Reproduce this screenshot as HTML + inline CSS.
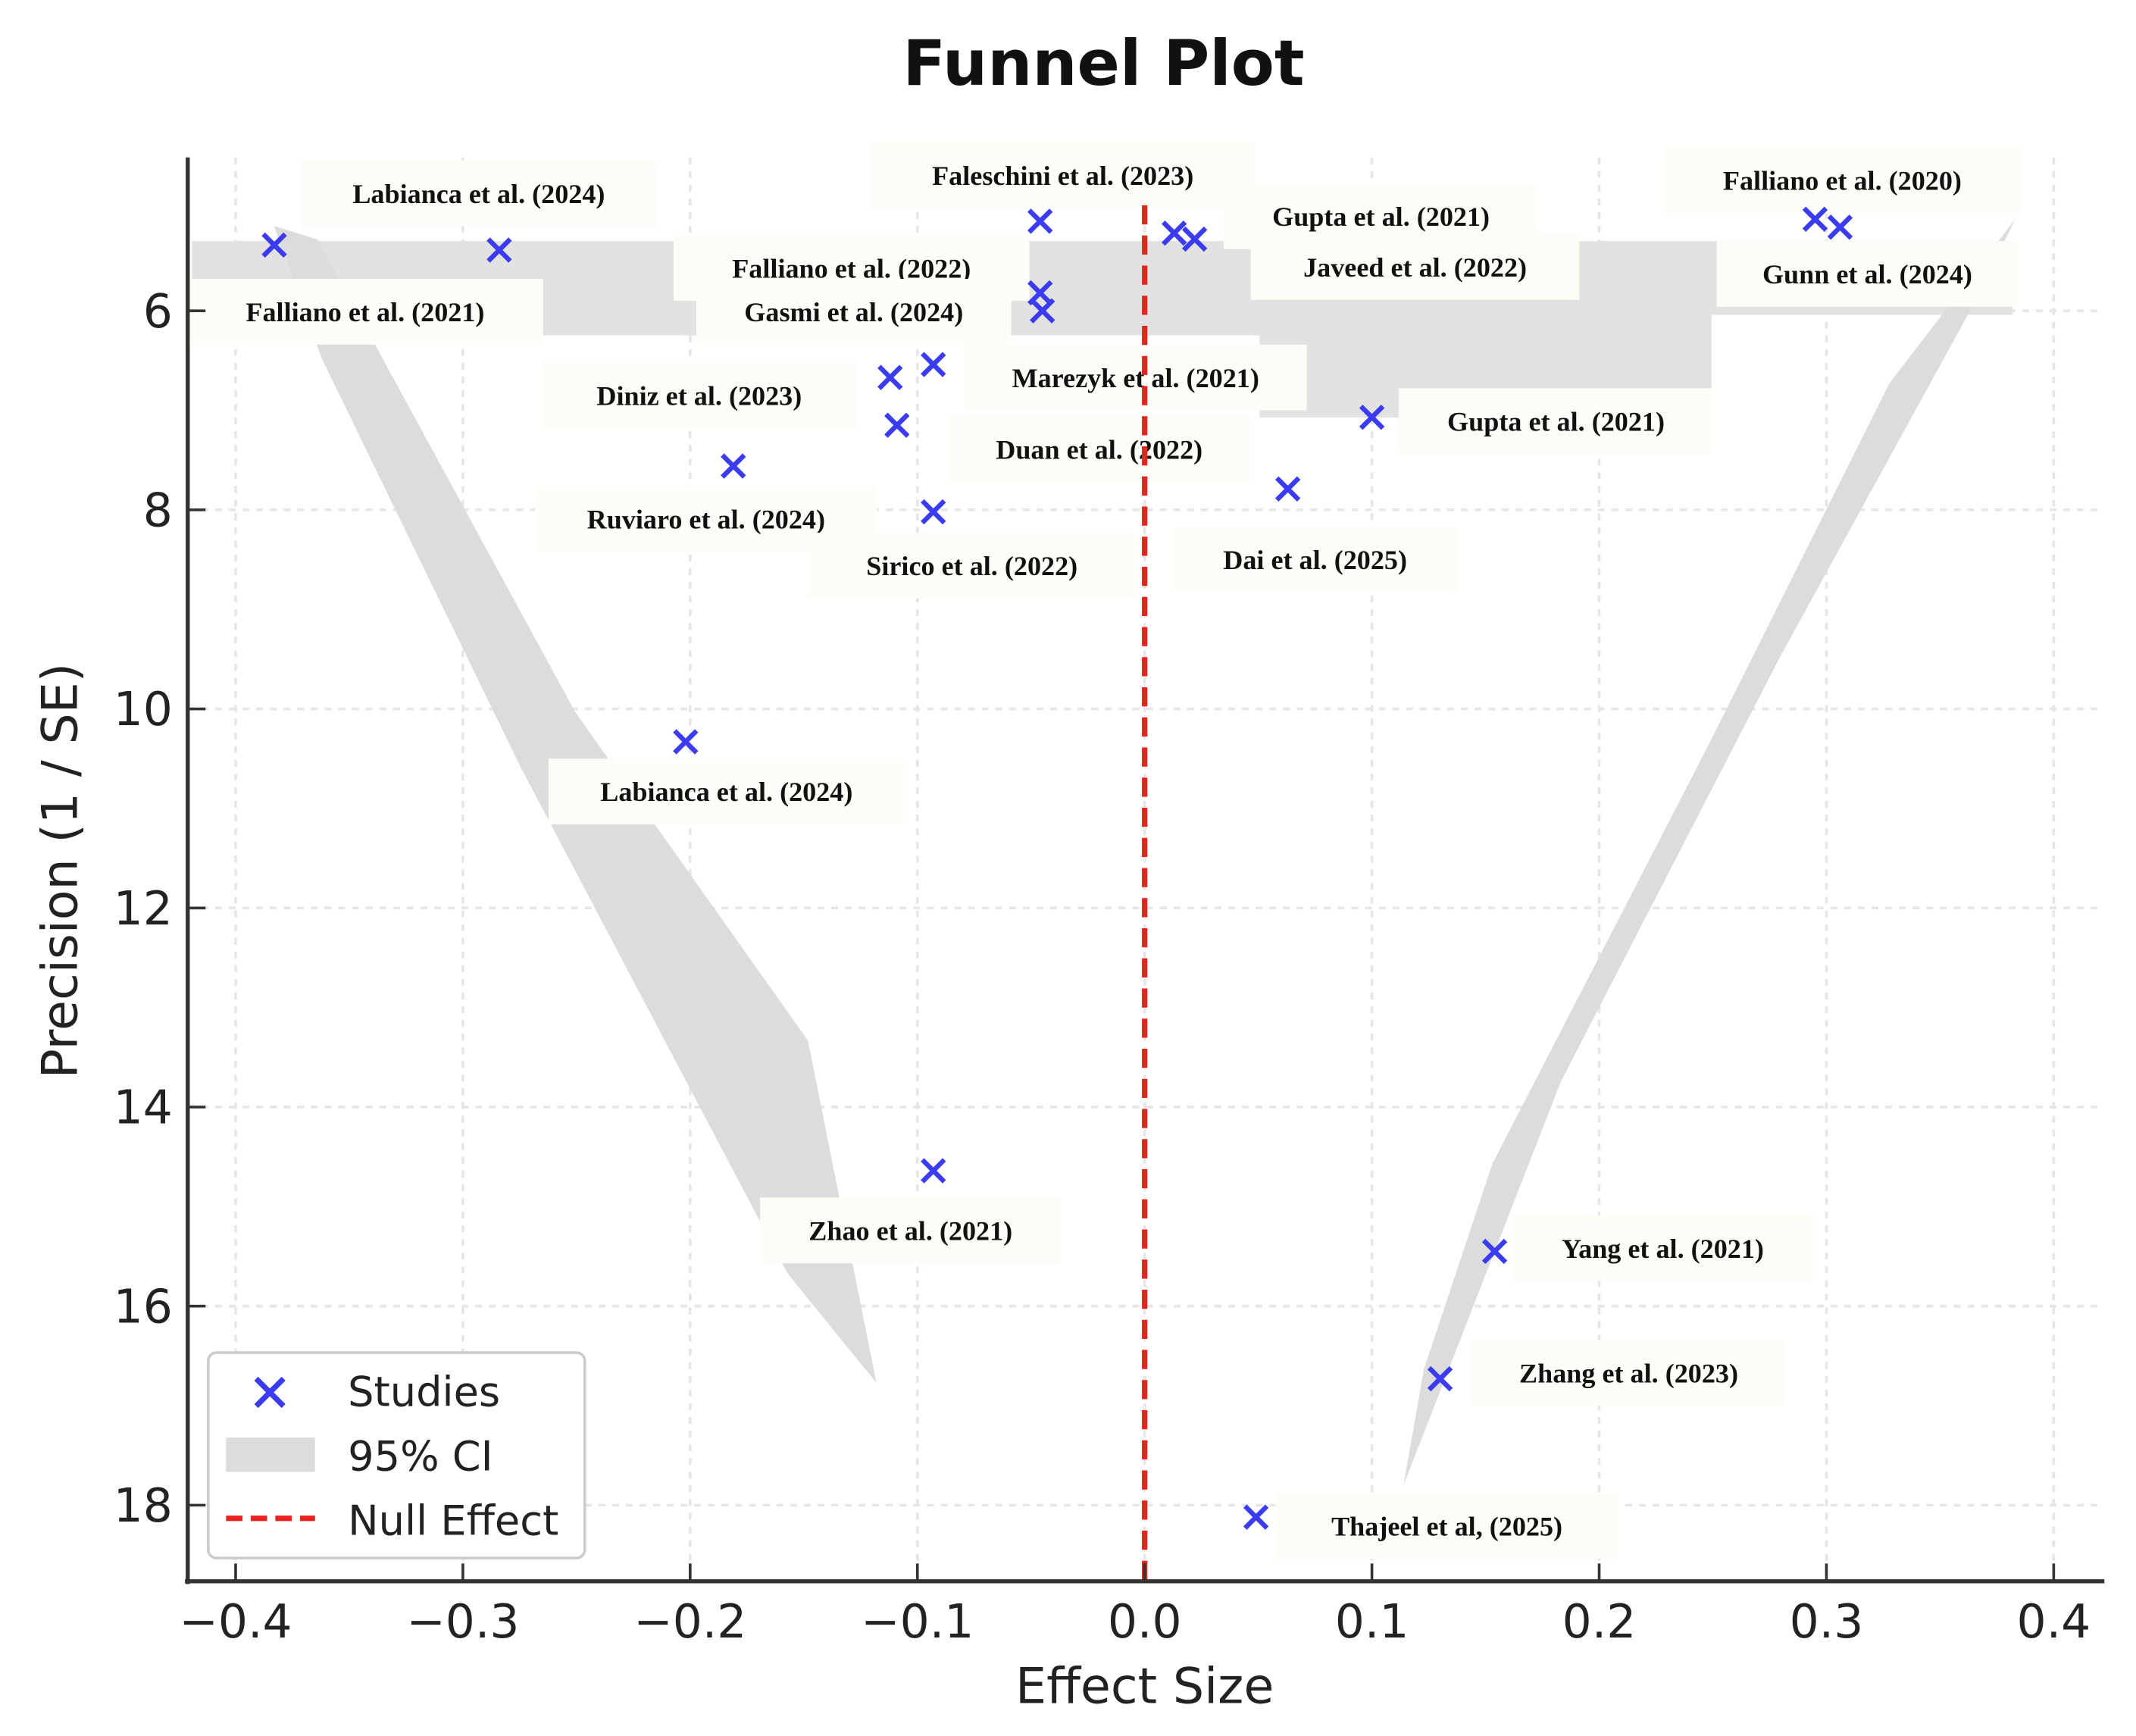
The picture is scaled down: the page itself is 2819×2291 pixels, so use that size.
<!DOCTYPE html>
<html><head><meta charset="utf-8">
<style>
html,body{margin:0;padding:0;background:#fff;}
svg{display:block;}
.tick{font-family:"DejaVu Sans","Liberation Sans",sans-serif;font-size:34px;fill:#222;}
.lab{font-family:"Liberation Serif",serif;font-weight:bold;font-size:20px;fill:#111;}
</style></head>
<body>
<svg id="chart" width="2819" height="2291" viewBox="0 0 1560 1268" xmlns="http://www.w3.org/2000/svg">
<rect width="1560" height="1268" fill="#fff"/>
<text x="806" y="62" text-anchor="middle" font-family="DejaVu Sans, Liberation Sans, sans-serif" font-weight="bold" font-size="46" fill="#111">Funnel Plot</text>
<g id="grid"></g>
<g id="ci">
  <polygon points="140,176 1470,176 1470,230 1250,230 1250,305 920,305 920,245 140,245" fill="#e2e2e2"/>
  <polygon points="200,165 232,175 420,520 590,760 660,1110 640,1010 575,930 380,560 235,262" fill="#dcdcdc"/>
  <polygon points="1472,160 1440,225 1300,480 1140,790 1025,1085 1040,1000 1090,850 1250,540 1380,280" fill="#dcdcdc"/>
</g>
<g id="labels"></g>
<line id="nullline" y1="150" y2="1155" stroke="#e8231f" stroke-width="4" stroke-dasharray="14,8"/>
<g id="points"></g>
<g id="axes">
  <line x1="137" y1="115" x2="137" y2="1157" stroke="#333" stroke-width="3"/>
  <line x1="135" y1="1155" x2="1537" y2="1155" stroke="#333" stroke-width="3"/>
</g>
<text x="836" y="1244" text-anchor="middle" font-family="DejaVu Sans, Liberation Sans, sans-serif" font-size="36" fill="#222">Effect Size</text>
<text transform="translate(56,636) rotate(-90)" text-anchor="middle" font-family="DejaVu Sans, Liberation Sans, sans-serif" font-size="36" fill="#222">Precision (1 / SE)</text>
<g>
  <rect x="152" y="988" width="275" height="150" rx="6" fill="#fff" stroke="#ccc" stroke-width="2"/>
  <path d="M187,1007L207,1027M187,1027L207,1007" stroke="#3b3bf0" stroke-width="4"/>
  <text x="254" y="1027" font-family="DejaVu Sans, sans-serif" font-size="30" fill="#222">Studies</text>
  <rect x="165" y="1050" width="65" height="25" fill="#dcdcdc"/>
  <text x="254" y="1074" font-family="DejaVu Sans, sans-serif" font-size="30" fill="#222">95% CI</text>
  <line x1="165" y1="1109" x2="230" y2="1109" stroke="#e8231f" stroke-width="4" stroke-dasharray="12,6"/>
  <text x="254" y="1121" font-family="DejaVu Sans, sans-serif" font-size="30" fill="#222">Null Effect</text>
</g>
</svg>
<script>
const xTicks = [-0.4,-0.3,-0.2,-0.1,0.0,0.1,0.2,0.3,0.4];
const xTickLabels = ["\u22120.4","\u22120.3","\u22120.2","\u22120.1","0.0","0.1","0.2","0.3","0.4"];
const yTicks = [6,8,10,12,14,16,18];
const effects = [-0.383,-0.284,-0.046,-0.046,-0.045,0.013,0.022,0.295,0.306,-0.112,-0.093,-0.109,-0.181,-0.093,0.100,0.063,-0.202,-0.093,0.154,0.130,0.049];
const precisions = [5.34,5.39,5.10,5.82,6.00,5.22,5.28,5.08,5.16,6.67,6.54,7.15,7.56,8.02,7.07,7.79,10.33,14.64,15.45,16.73,18.12];
const labelTexts = ["Labianca et al. (2024)","Faleschini et al. (2023)","Falliano et al. (2020)","Gupta et al. (2021)","Javeed et al. (2022)","Gunn et al. (2024)","Falliano et al. (2021)","Falliano et al. (2022)","Gasmi et al. (2024)","Diniz et al. (2023)","Marezyk et al. (2021)","Duan et al. (2022)","Gupta et al. (2021)","Ruviaro et al. (2024)","Sirico et al. (2022)","Dai et al. (2025)","Labianca et al. (2024)","Zhao et al. (2021)","Yang et al. (2021)","Zhang et al. (2023)","Thajeel et al, (2025)"];
const labelX = [-0.293,-0.036,0.307,0.104,0.119,0.318,-0.343,-0.129,-0.128,-0.196,-0.004,-0.020,0.181,-0.193,-0.076,0.075,-0.184,-0.103,0.228,0.213,0.133];
const labelP = [4.82,4.64,4.69,5.05,5.56,5.63,6.01,5.57,6.01,6.85,6.67,7.39,7.11,8.09,8.56,8.50,10.83,15.24,15.42,16.67,18.21];

const NS='http://www.w3.org/2000/svg';
const xs = v => 836 + v*1660;
const ys = p => 227 + (p-6)*72.7;
function mk(tag, attrs, parent){const e=document.createElementNS(NS,tag);for(const k in attrs)e.setAttribute(k,attrs[k]);parent.appendChild(e);return e;}
const grid=document.getElementById('grid'), axes=document.getElementById('axes');
xTicks.forEach((v,i)=>{
  const g=mk('line',{x1:xs(v),x2:xs(v),y1:115,y2:1155,stroke:'#e6e6e6','stroke-width':2,'stroke-dasharray':'5,5'},grid);
  
  
  const t=mk('line',{x1:xs(v),x2:xs(v),y1:1155,y2:1142,stroke:'#333','stroke-width':2},axes);
  
  
  const l=mk('text',{x:xs(v),y:1196,'text-anchor':'middle',class:'tick'},axes);
  l.textContent=xTickLabels[i];
  
  
});
yTicks.forEach(p=>{
  const g=mk('line',{x1:137,x2:1537,y1:ys(p),y2:ys(p),stroke:'#e6e6e6','stroke-width':2,'stroke-dasharray':'5,5'},grid);
  
  
  const t=mk('line',{x1:137,x2:150,y1:ys(p),y2:ys(p),stroke:'#333','stroke-width':2},axes);
  
  
  const l=mk('text',{x:126,y:ys(p)+12,'text-anchor':'end',class:'tick'},axes);
  l.textContent=String(p);
  
  
});
document.getElementById('nullline').setAttribute('x1',xs(0));
document.getElementById('nullline').setAttribute('x2',xs(0));
const labels=document.getElementById('labels');
labelTexts.forEach((s,i)=>{
  const cx=xs(labelX[i]), cy=ys(labelP[i]);
  const w=s.length*10+40;
  const r=mk('rect',{x:cx-w/2,y:cy-24,width:w,height:48,fill:'#fdfdf8'},labels);
  
  
  const t=mk('text',{x:cx,y:cy+7,'text-anchor':'middle',class:'lab'},labels);
  t.textContent=s;
  
  
});
const pts=document.getElementById('points');
effects.forEach((v,i)=>{
  const cx=xs(v), cy=ys(precisions[i]), d=8;
  const p=mk('path',{d:`M${cx-d},${cy-d}L${cx+d},${cy+d}M${cx-d},${cy+d}L${cx+d},${cy-d}`,stroke:'#3b3bf0','stroke-width':3.5,fill:'none'},pts);
  
  
});
</script>
</body></html>
